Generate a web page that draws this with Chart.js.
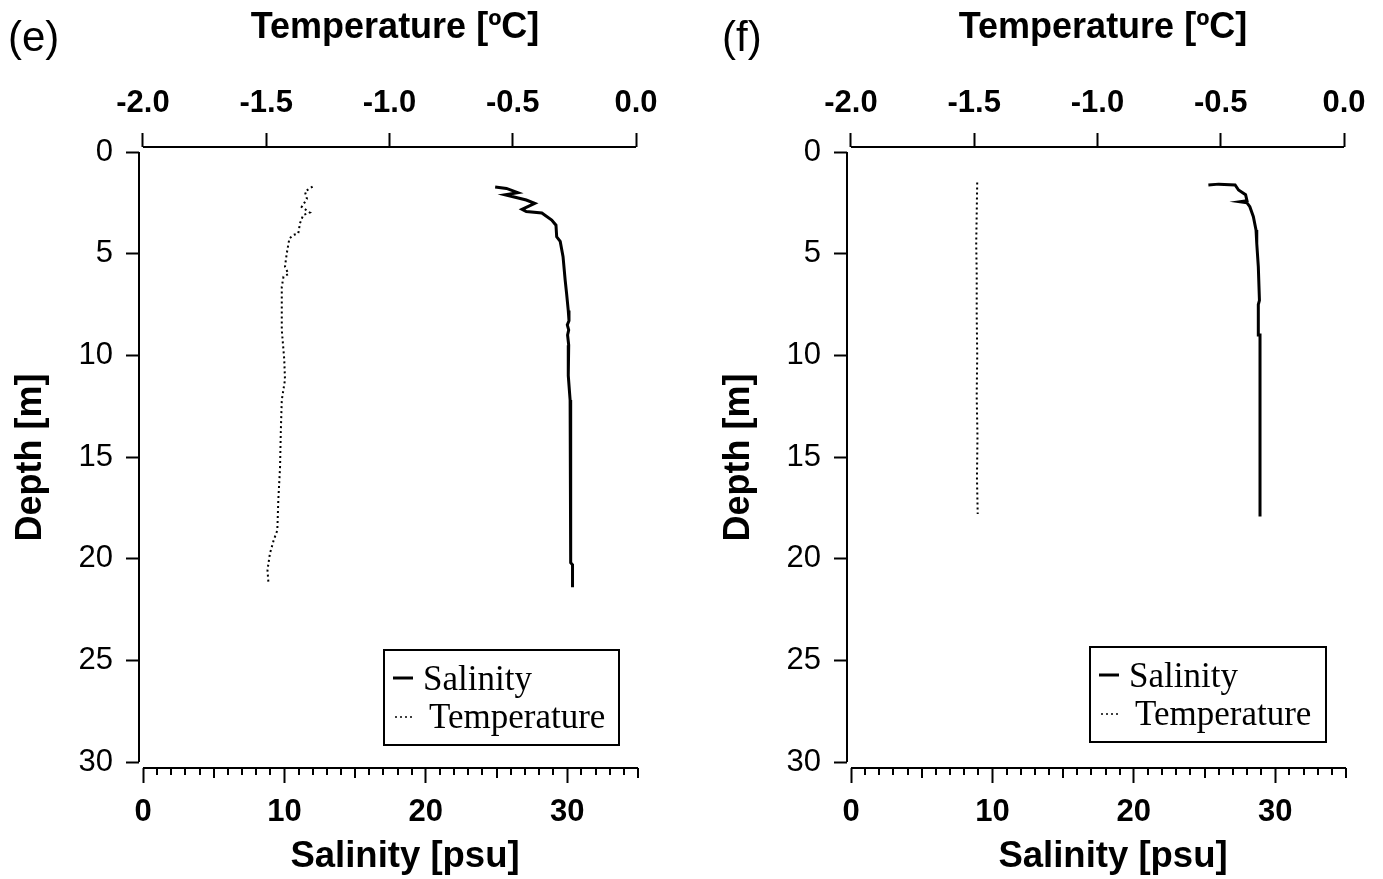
<!DOCTYPE html>
<html><head><meta charset="utf-8">
<script src="https://cdn.jsdelivr.net/npm/chart.js@4.4.1/dist/chart.umd.min.js"></script>
<style>
html,body{margin:0;padding:0;background:#fff}
body{width:1383px;height:879px;overflow:hidden;position:relative}
canvas{position:absolute;top:0}
</style></head>
<body>
<canvas id="cE" width="691" height="879" style="left:0px"></canvas>
<canvas id="cF" width="675" height="879" style="left:708px"></canvas>
<script>
// ---- tick labels ----
const depthTicks = [0, 5, 10, 15, 20, 25, 30];
const tempTicks = [-2.0, -1.5, -1.0, -0.5, 0.0];
const salTicks = [0, 10, 20, 30];
const salMax = 35;
const salMinorStep = 1;

// ---- panel (e) ----
const salE_S = [24.9, 25.7, 26.5, 25.6, 27.1, 27.7, 26.8, 27.1, 28.2, 28.9, 29.2, 29.25, 29.5, 29.7, 29.85, 29.95, 30.07, 30.12, 30.0, 30.1, 30.02, 30.1, 30.07, 30.2, 30.24, 30.24, 30.37, 30.37];
const salE_D = [1.72, 1.79, 2.0, 2.1, 2.36, 2.53, 2.82, 2.93, 3.0, 3.35, 3.6, 4.17, 4.4, 5.15, 6.3, 6.95, 7.8, 8.3, 8.5, 8.75, 9.0, 9.5, 11.0, 12.2, 12.8, 20.2, 20.3, 21.4];
const tempE_T = [-1.312, -1.343, -1.335, -1.356, -1.323, -1.35, -1.363, -1.37, -1.39, -1.406, -1.417, -1.424, -1.41, -1.43, -1.437, -1.437, -1.427, -1.424, -1.437, -1.441, -1.444, -1.451, -1.455, -1.47, -1.485, -1.495, -1.491];
const tempE_D = [1.7, 1.95, 2.3, 2.7, 2.98, 3.1, 3.5, 4.0, 4.08, 4.25, 5.0, 5.64, 6.0, 6.13, 6.63, 8.75, 10.2, 11.2, 12.2, 13.8, 15.5, 17.1, 18.6, 19.1, 19.74, 20.56, 21.2];

// ---- panel (f) ----
const salF_S = [25.27, 26.0, 27.16, 27.4, 27.9, 28.0, 27.5, 28.0, 28.2, 28.45, 28.64, 28.69, 28.8, 28.88, 28.8, 28.8, 28.92, 28.92];
const salF_D = [1.62, 1.58, 1.62, 1.87, 2.1, 2.4, 2.45, 2.5, 2.69, 3.18, 3.84, 4.5, 5.64, 7.3, 7.5, 9.0, 9.0, 17.93];
const tempF_T = [-1.488, -1.49, -1.492, -1.49, -1.49, -1.488, -1.49, -1.487, -1.489, -1.486];
const tempF_D = [1.5, 3.0, 4.5, 6.0, 8.0, 10.0, 12.0, 14.0, 16.0, 17.8];

const seriesNames = ['Salinity', 'Temperature'];
const axisTitles = { top: 'Temperature [ºC]', bottom: 'Salinity [psu]', left: 'Depth [m]' };

const SANS = '"Liberation Sans", Arial, sans-serif';
const SERIF = '"Liberation Serif", "Times New Roman", serif';

function pts(xs, ys) { return xs.map((v, i) => ({ x: v, y: ys[i] })); }

const panelPlugin = {
  id: 'panelDeco',
  afterDraw(chart) {
    const o = chart.options.plugins.panelDeco;
    const ctx = chart.ctx, a = chart.chartArea;
    const sx = chart.scales.xS, st = chart.scales.xT, sy = chart.scales.y;
    ctx.save();
    ctx.strokeStyle = '#000';
    ctx.fillStyle = '#000';
    ctx.lineWidth = 2;
    ctx.setLineDash([]);
    // axis lines (offset Origin style)
    ctx.beginPath();
    ctx.moveTo(a.left, sy.getPixelForValue(depthTicks[0]));
    ctx.lineTo(a.left, sy.getPixelForValue(depthTicks[depthTicks.length - 1]));
    ctx.moveTo(st.getPixelForValue(tempTicks[0]), a.top);
    ctx.lineTo(st.getPixelForValue(tempTicks[tempTicks.length - 1]), a.top);
    ctx.moveTo(sx.getPixelForValue(0), a.bottom);
    ctx.lineTo(sx.getPixelForValue(salMax), a.bottom);
    ctx.stroke();
    // minor ticks on salinity axis
    ctx.beginPath();
    for (let v = salMinorStep; v <= salMax; v += salMinorStep) {
      if (salTicks.includes(v)) continue;
      const len = (v % 5 === 0) ? 10 : 7;
      const px = Math.round(sx.getPixelForValue(v));
      ctx.moveTo(px, a.bottom);
      ctx.lineTo(px, a.bottom + len);
    }
    ctx.stroke();
    // axis titles (top and bottom, placed like the original)
    ctx.font = 'bold 36px ' + SANS;
    ctx.textAlign = 'center';
    ctx.textBaseline = 'middle';
    ctx.fillText(axisTitles.top, a.left + 256, 28);
    ctx.font = 'bold 36.5px ' + SANS;
    ctx.fillText(axisTitles.bottom, a.left + 266, 857);
    // panel letter
    ctx.font = '42px ' + SANS;
    ctx.textBaseline = 'middle';
    ctx.textAlign = 'left';
    ctx.fillText(o.letter, o.letterX, 39);
    // legend
    const L = o.legend;
    ctx.lineWidth = 2;
    ctx.strokeRect(L.x, L.y, L.w, L.h);
    ctx.beginPath();
    ctx.lineWidth = 3;
    ctx.moveTo(L.x + 9, L.y + 28);
    ctx.lineTo(L.x + 29, L.y + 28);
    ctx.stroke();
    ctx.beginPath();
    ctx.lineWidth = 1.5;
    ctx.setLineDash([2, 3]);
    ctx.moveTo(L.x + 11, L.y + 67);
    ctx.lineTo(L.x + 31, L.y + 67);
    ctx.stroke();
    ctx.setLineDash([]);
    ctx.font = '35px ' + SERIF;
    ctx.textBaseline = 'alphabetic';
    ctx.fillText(seriesNames[0], L.x + 39, L.y + 40);
    ctx.fillText(seriesNames[1], L.x + 45, L.y + 78);
    ctx.restore();
  }
};

function makePanel(id, salS, salD, tmpT, tmpD, letter, letterX, legend, rightPad) {
  const tickFontBold = { family: SANS, size: 31, weight: 'bold' };
  const titleFont = { family: SANS, size: 36, weight: 'bold' };
  return new Chart(document.getElementById(id), {
    type: 'scatter',
    data: {
      datasets: [
        { label: seriesNames[0], data: pts(salS, salD), xAxisID: 'xS', yAxisID: 'y',
          showLine: true, borderColor: '#000', borderWidth: 3, pointRadius: 0, tension: 0, fill: false },
        { label: seriesNames[1], data: pts(tmpT, tmpD), xAxisID: 'xT', yAxisID: 'y',
          showLine: true, borderColor: '#000', borderWidth: 2, borderDash: [2, 3], pointRadius: 0, tension: 0, fill: false }
      ]
    },
    options: {
      responsive: false, animation: false, devicePixelRatio: 1,
      layout: { padding: { left: 0, right: rightPad, top: 0, bottom: 0 } },
      plugins: { legend: { display: false }, tooltip: { enabled: false },
        panelDeco: { letter, letterX, legend } },
      scales: {
        xT: {
          type: 'linear', position: 'top', min: -2.0162, max: 0.0081,
          afterBuildTicks: s => { s.ticks = tempTicks.map(v => ({ value: v })); },
          afterFit: s => { s.height = 147; },
          border: { display: false },
          grid: { display: true, drawOnChartArea: false, drawTicks: true, tickLength: 14, tickWidth: 2, tickColor: '#000' },
          ticks: { font: tickFontBold, color: '#000', padding: 11, maxRotation: 0, autoSkip: false, callback: v => Number(v).toFixed(1) },
          title: { display: false }
        },
        xS: {
          type: 'linear', position: 'bottom', min: -0.283, max: salMax,
          afterBuildTicks: s => { s.ticks = salTicks.map(v => ({ value: v })); },
          afterFit: s => { s.height = 111; },
          border: { display: false },
          grid: { display: true, drawOnChartArea: false, drawTicks: true, tickLength: 15, tickWidth: 2, tickColor: '#000' },
          ticks: { font: tickFontBold, color: '#000', padding: 11, maxRotation: 0, autoSkip: false, callback: v => String(v) },
          title: { display: false }
        },
        y: {
          type: 'linear', position: 'left', reverse: true, min: -0.246, max: 30.295,
          afterBuildTicks: s => { s.ticks = depthTicks.map(v => ({ value: v })); },
          afterFit: s => { s.width = 139; },
          border: { display: false },
          grid: { display: true, drawOnChartArea: false, drawTicks: true, tickLength: 13, tickWidth: 2, tickColor: '#000' },
          ticks: { font: { family: SANS, size: 31 }, color: '#000', padding: 13, autoSkip: false, callback: v => String(v) },
          title: { display: true, text: axisTitles.left, font: titleFont, color: '#000', padding: { top: 9, bottom: 0 } }
        }
      }
    },
    plugins: [panelPlugin]
  });
}

makePanel('cE', salE_S, salE_D, tempE_T, tempE_D, '(e)', 8, { x: 384, y: 650, w: 235, h: 95 }, 53);
makePanel('cF', salF_S, salF_D, tempF_T, tempF_D, '(f)', 14, { x: 382, y: 647, w: 236, h: 95 }, 37);
</script>
</body></html>
